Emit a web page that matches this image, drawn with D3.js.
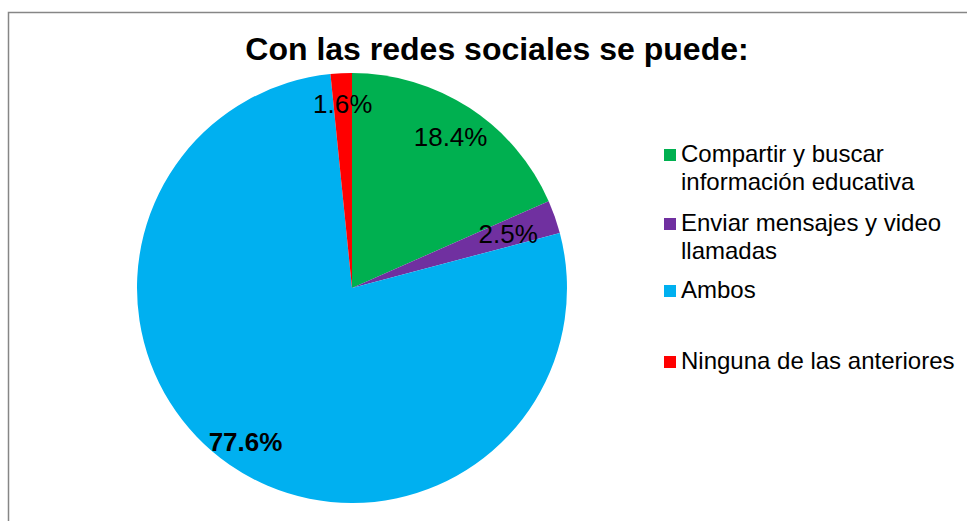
<!DOCTYPE html>
<html><head><meta charset="utf-8">
<script src="https://cdn.jsdelivr.net/npm/d3@7"></script>
<style>html,body{margin:0;padding:0;background:#fff;}svg{display:block;}</style>
</head><body>
<svg id="c" width="967" height="521"></svg>
<script>
const categories = ["Compartir y buscar información educativa", "Enviar mensajes y video llamadas", "Ambos", "Ninguna de las anteriores"];
const legendLines = [["Compartir y buscar", "información educativa"], ["Enviar mensajes y video", "llamadas"], ["Ambos"], ["Ninguna de las anteriores"]];
const values = [18.4, 2.5, 77.6, 1.6];
const labels = ["18.4%", "2.5%", "77.6%", "1.6%"];
const colors = ["#00B050", "#7030A0", "#00B0F0", "#FF0000"];

const svg = d3.select("#c");
svg.append("rect").attr("x", 8.5).attr("y", 12.5).attr("width", 1000).attr("height", 600)
  .attr("fill", "#fff").attr("stroke", "#868686").attr("stroke-width", 1.5);

svg.append("text").attr("x", 497).attr("y", 60).attr("text-anchor", "middle")
  .attr("font-family", "'Liberation Sans', Arial, sans-serif").attr("font-weight", "bold")
  .attr("font-size", 32).attr("fill", "#000").text("Con las redes sociales se puede:");

const cx = 352, cy = 288, R = 215;
const pie = d3.pie().sort(null).value(d => d);
const arcs = pie(values);
const arc = d3.arc().innerRadius(0).outerRadius(R);
const g = svg.append("g").attr("transform", `translate(${cx},${cy})`);
g.selectAll("path").data(arcs).join("path").attr("d", arc).attr("fill", (d, i) => colors[i]);

const labelRadius = [0.84, 0.77, 0.87, 0.86];
const labelBold = [false, false, true, false];
g.selectAll("text.lbl").data(arcs).join("text").attr("class", "lbl")
  .each(function (d, i) {
    const a = (d.startAngle + d.endAngle) / 2;
    const r = R * labelRadius[i];
    d3.select(this).attr("x", r * Math.sin(a)).attr("y", -r * Math.cos(a));
  })
  .attr("text-anchor", "middle").attr("dy", "0.36em")
  .attr("font-family", "'Liberation Sans', Arial, sans-serif")
  .attr("font-size", 26).attr("font-weight", (d, i) => labelBold[i] ? "bold" : "normal")
  .attr("fill", "#000").text((d, i) => labels[i]);

const legY = [162, 231, 298, 369];
const lg = svg.append("g");
categories.forEach((c, i) => {
  const y0 = legY[i];
  lg.append("rect").attr("x", 664).attr("y", y0 - 13).attr("width", 12).attr("height", 12).attr("fill", colors[i]);
  const t = lg.append("text").attr("x", 681).attr("y", y0)
    .attr("font-family", "'Liberation Sans', Arial, sans-serif").attr("font-size", 24).attr("fill", "#000");
  legendLines[i].forEach((ln, j) => {
    t.append("tspan").attr("x", 681).attr("y", y0 + j * 27.5).text(ln);
  });
});
</script>
</body></html>
